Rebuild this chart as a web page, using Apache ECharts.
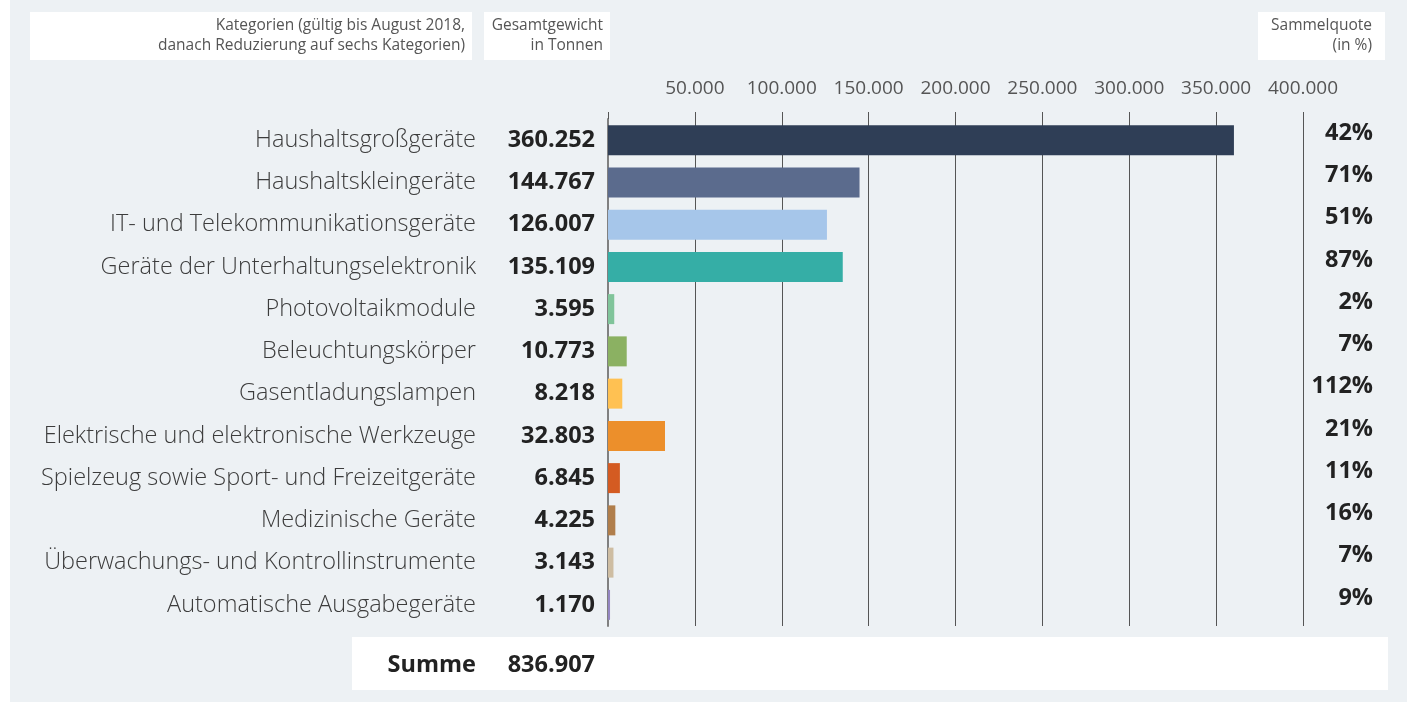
<!DOCTYPE html>
<html lang="de">

<head>
	<meta charset="UTF-8">
	<title>Elektroaltgeräte Sammelmengen</title>
	<script src="https://cdn.jsdelivr.net/npm/echarts@6/dist/echarts.min.js"></script>
	<style>
		body { margin: 0; background: #fff; }
	</style>
</head>

<body>
	<div id="main" style="width: 1407px;height: 702px;"></div>

	<script>
		// Kategorien, Gesamtgewicht (t) und Sammelquote (%)
		const categories = [
			'Haushaltsgroßgeräte',
			'Haushaltskleingeräte',
			'IT- und Telekommunikationsgeräte',
			'Geräte der Unterhaltungselektronik',
			'Photovoltaikmodule',
			'Beleuchtungskörper',
			'Gasentladungslampen',
			'Elektrische und elektronische Werkzeuge',
			'Spielzeug sowie Sport- und Freizeitgeräte',
			'Medizinische Geräte',
			'Überwachungs- und Kontrollinstrumente',
			'Automatische Ausgabegeräte'
		];
		const weights = [360252, 144767, 126007, 135109, 3595, 10773, 8218, 32803, 6845, 4225, 3143, 1170];
		const quotes = [42, 71, 51, 87, 2, 7, 112, 21, 11, 16, 7, 9];
		const barColors = ['#2f3e56', '#5b6b8d', '#a6c6ea', '#35aea6', '#80c49a', '#8bb162', '#ffc152',
			'#ec8f2b', '#d45b22', '#b07e4b', '#cebda2', '#9486c1'];
		const total = 836907;

		const textFont = '"Open Sans", sans-serif';

		function fmt(n) {
			return String(n).replace(/\B(?=(\d{3})+(?!\d))/g, '.');
		}

		var chartDom = document.getElementById('main');
		var myChart = echarts.init(chartDom);
		var option;

		option = {
			backgroundColor: '#edf1f4',
			textStyle: { fontFamily: textFont },
			animation: false,
			grid: {
				left: 608,
				width: 695,
				top: 119,
				height: 507
			},
			xAxis: {
				type: 'value',
				position: 'top',
				min: 0,
				max: 400000,
				interval: 50000,
				axisLine: { show: false },
				axisTick: { show: true, length: 7, lineStyle: { color: '#555', width: 1 } },
				splitLine: { show: true, lineStyle: { color: '#555', width: 1 } },
				axisLabel: {
					margin: 21,
					fontSize: 19,
					color: '#555',
					fontFamily: textFont,
					formatter: function (v) {
						return v === 0 ? '' : fmt(v);
					}
				}
			},
			yAxis: [
				{
					type: 'category',
					data: categories,
					inverse: true,
					axisTick: { show: false },
					axisLine: { show: true, lineStyle: { color: '#808080', width: 2 } },
					axisLabel: {
						margin: 13,
						formatter: function (v, i) {
							return '{n|' + v + '}{v|' + fmt(weights[i]) + '}';
						},
						rich: {
							n: { fontSize: 23.5, color: '#3c3c3c', fontFamily: textFont, fontWeight: 300 },
							v: { fontSize: 23.5, color: '#222', fontWeight: 'bold', fontFamily: textFont, width: 119, align: 'right' }
						}
					}
				},
				{
					type: 'category',
					data: categories,
					inverse: true,
					position: 'right',
					axisTick: { show: false },
					axisLine: { show: false },
					axisLabel: {
						margin: 0,
						formatter: function (v, i) {
							return '{p|' + quotes[i] + '%}';
						},
						rich: {
							p: { fontSize: 23.5, color: '#222', fontWeight: 'bold', fontFamily: textFont, width: 70, align: 'right', padding: [0, 0, 14, 0] }
						}
					}
				}
			],
			graphic: [
				{ type: 'rect', left: 0, top: 0, shape: { width: 10, height: 702 }, style: { fill: '#fff' } },
				{ type: 'rect', left: 30, top: 12, shape: { width: 442, height: 48 }, style: { fill: '#fff' } },
				{
					type: 'text', x: 465, y: 16,
					style: {
						text: 'Kategorien (gültig bis August 2018,\ndanach Reduzierung auf sechs Kategorien)',
						align: 'right', fill: '#555', font: '15.5px ' + textFont, lineHeight: 20
					}
				},
				{ type: 'rect', left: 484, top: 12, shape: { width: 126, height: 48 }, style: { fill: '#fff' } },
				{
					type: 'text', x: 603, y: 16,
					style: { text: 'Gesamtgewicht\nin Tonnen', align: 'right', fill: '#555', font: '15.5px ' + textFont, lineHeight: 20 }
				},
				{ type: 'rect', left: 1258, top: 12, shape: { width: 127, height: 48 }, style: { fill: '#fff' } },
				{
					type: 'text', x: 1372, y: 16,
					style: { text: 'Sammelquote\n(in %)', align: 'right', fill: '#555', font: '15.5px ' + textFont, lineHeight: 20 }
				},
				{ type: 'rect', left: 352, top: 637, shape: { width: 1036, height: 53 }, style: { fill: '#fff' } },
				{
					type: 'text', x: 476, y: 665,
					style: { text: 'Summe', align: 'right', verticalAlign: 'middle', fill: '#222', font: 'bold 23.5px ' + textFont }
				},
				{
					type: 'text', x: 595, y: 665,
					style: { text: fmt(total), align: 'right', verticalAlign: 'middle', fill: '#222', font: 'bold 23.5px ' + textFont }
				}
			],
			series: [
				{
					type: 'bar',
					yAxisIndex: 0,
					barWidth: 30,
					data: weights.map(function (w, i) {
						return { value: w, itemStyle: { color: barColors[i] } };
					})
				}
			]
		};

		option && myChart.setOption(option);
	</script>
</body>

</html>
